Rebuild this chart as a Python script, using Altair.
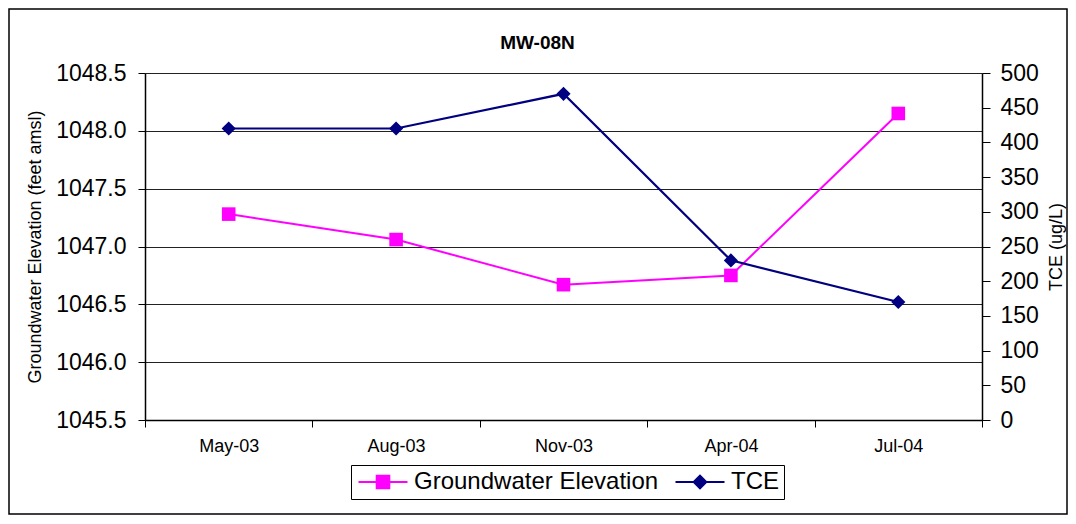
import altair as alt
import pandas as pd

dates = ["May-03", "Aug-03", "Nov-03", "Apr-04", "Jul-04"]
gw_elev = [1047.28, 1047.06, 1046.67, 1046.75, 1048.15]
tce = [420, 420, 470, 230, 170]
series = ["Groundwater Elevation", "TCE"]
colors = ["#FF00FF", "#000080"]
left_ticks = [1045.5, 1046.0, 1046.5, 1047.0, 1047.5, 1048.0, 1048.5]
right_ticks = [0, 50, 100, 150, 200, 250, 300, 350, 400, 450, 500]

df = pd.DataFrame({"date": dates, "gw": gw_elev, "tce": tce})
legend_df = pd.DataFrame({"series": series})
frame_df = pd.DataFrame({"k": [0]})

FONT = "Liberation Sans"
W, H = 837, 347

x_enc = alt.X(
    "date:N", sort=dates, bandPosition=0.5,
    scale=alt.Scale(type="band", paddingInner=0, paddingOuter=0),
    axis=alt.Axis(title=None, tickBand="extent", labelAngle=0, labelFontSize=18,
                  labelFont=FONT, labelColor="black", labelPadding=10, tickSize=7,
                  tickColor="black", domainColor="black", domainWidth=1.5, grid=False),
)

y_left = alt.Y(
    "gw:Q",
    scale=alt.Scale(domain=[1045.5, 1048.5], nice=False, zero=False),
    axis=alt.Axis(title="Groundwater Elevation (feet amsl)", values=left_ticks, format=".1f",
                  labelFontSize=23, labelFont=FONT, labelColor="black", labelPadding=12,
                  tickSize=7, tickColor="black", domainColor="black", domainWidth=1.5,
                  grid=True, gridColor="#222222", gridWidth=1,
                  titleFont=FONT, titleFontSize=18, titleFontWeight="normal",
                  titleColor="black", titlePadding=11),
)

y_right = alt.Y(
    "tce:Q",
    scale=alt.Scale(domain=[0, 500], nice=False),
    axis=alt.Axis(title="TCE (ug/L)", orient="right", values=right_ticks, format="d",
                  labelFontSize=23, labelFont=FONT, labelColor="black", labelPadding=10,
                  tickSize=8, tickColor="black", domainColor="black", domainWidth=1.5,
                  grid=False, titleAngle=270, titleBaseline="top",
                  titleFont=FONT, titleFontSize=18, titleFontWeight="normal",
                  titleColor="black", titlePadding=9),
)

base = alt.Chart(df)
gw = alt.layer(
    base.mark_line(color=colors[0], strokeWidth=2).encode(x=x_enc, y=y_left),
    base.mark_point(shape="square", filled=True, size=185, color=colors[0], opacity=1).encode(x=x_enc, y=y_left),
)
tc = alt.layer(
    base.mark_line(color=colors[1], strokeWidth=2.2).encode(x=x_enc, y=y_right),
    base.mark_point(shape="diamond", filled=True, size=200, color=colors[1], opacity=1).encode(x=x_enc, y=y_right),
)

sq_path = "M-3.5,0H3.5M-0.9,-0.9H0.9V0.9H-0.9Z"
dm_path = "M-3.5,0H3.5M-0.9,0L0,-0.9L0.9,0L0,0.9Z"

leg = alt.Legend(title=None, orient="none", legendX=206, legendY=392, direction="horizontal",
                 labelFontSize=24, labelFont=FONT, labelColor="black", labelLimit=500,
                 symbolSize=196, symbolStrokeWidth=2, symbolOpacity=1,
                 strokeColor="black", fillColor="white",
                 padding=5, symbolOffset=15, labelOffset=19, columnPadding=12)

legend_layer = alt.Chart(legend_df).mark_point(filled=True, opacity=0, size=196).encode(
    x=alt.value(0), y=alt.value(0),
    fill=alt.Fill("series:N", scale=alt.Scale(domain=series, range=colors), legend=leg),
    stroke=alt.Stroke("series:N", scale=alt.Scale(domain=series, range=colors), legend=leg),
    shape=alt.Shape("series:N", scale=alt.Scale(domain=series, range=[sq_path, dm_path]), legend=leg),
)

frame = alt.Chart(frame_df).mark_rect(fill="transparent", stroke="black", strokeWidth=1.5).encode(
    x=alt.value(-136), x2=alt.value(W + 85), y=alt.value(-64), y2=alt.value(H + 94)
)

chart = alt.layer(frame, gw, tc, legend_layer).resolve_scale(y="independent").properties(
    width=W, height=H,
    title=alt.Title("MW-08N", fontSize=19, fontWeight="bold", font=FONT, color="black",
                    anchor="middle", dx=-26, offset=-64, baseline="bottom"),
    autosize=alt.AutoSizeParams(type="none"),
    padding={"left": 137, "top": 65, "right": 86, "bottom": 96},
).configure_view(stroke=None).configure(background="white")

chart.save("out.html", embed_options={"renderer": "svg", "actions": False})
